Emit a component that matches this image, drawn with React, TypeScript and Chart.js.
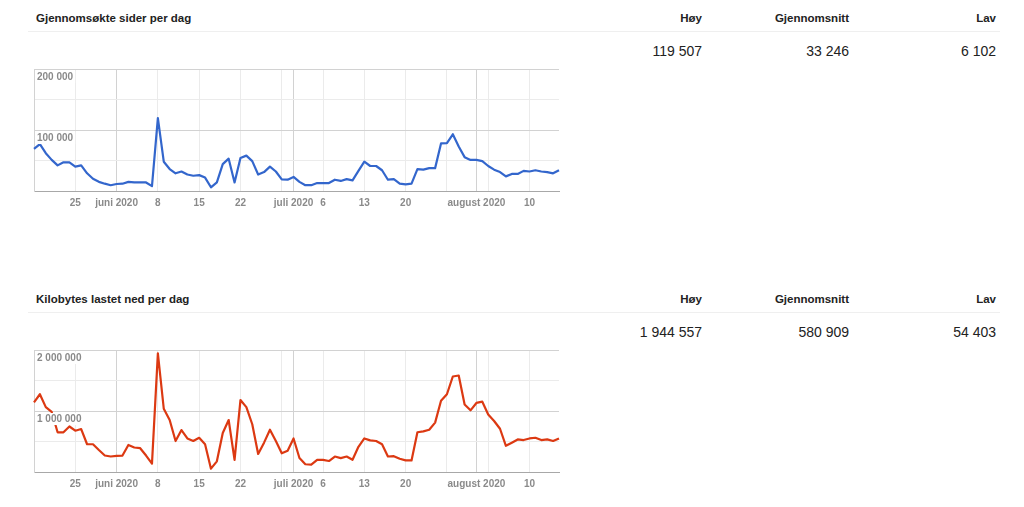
import React, { useEffect, useRef } from 'react';
import { Chart, registerables } from 'chart.js';

Chart.register(...registerables);

const FONT = '"Liberation Sans", Arial, Helvetica, sans-serif';

// ---- categories ----
const startDate = '2020-05-18';
const dayCount = 90;
const dayLabels: string[] = [];
{
  const d0 = new Date(startDate + 'T00:00:00Z');
  for (let i = 0; i < dayCount; i++) {
    const d = new Date(d0.getTime() + i * 86400000);
    dayLabels.push(d.toISOString().slice(0, 10));
  }
}

// ---- x tick labels ----
const xTickDays = [0, 7, 14, 21, 28, 35, 42, 44, 49, 56, 63, 70, 75, 77, 84];
const xTickLabels = ['', '25', 'juni 2020', '8', '15', '22', '', 'juli 2020', '6', '13', '20', '', 'august 2020', '', '10'];
const monthStartDays = [14, 44, 75];

// ---- series ----
const pagesPerDay = [
  69000, 77000, 62000, 51000, 42000, 47000, 47000, 40000, 42000, 29000,
  20000, 15000, 12000, 9500, 11500, 12000, 15000, 14000, 14000, 14000,
  8000, 119507, 48000, 36000, 29000, 32000, 27000, 25000, 26000, 22000,
  6102, 14000, 44000, 53000, 14000, 54000, 58000, 49000, 27000, 31000,
  40000, 32000, 19000, 18500, 23000, 15000, 9500, 9500, 13000, 13000,
  13000, 18500, 16500, 19500, 17500, 33000, 48000, 41000, 41000, 34000,
  18500, 19500, 12000, 11000, 12000, 36000, 35000, 37500, 37500, 78000,
  78500, 93000, 73000, 55500, 51000, 51000, 49000, 41000, 35000, 31000,
  24000, 28000, 28000, 33000, 32000, 34000, 32000, 31000, 29000, 34000,
];

const kilobytesPerDay = [
  1143000, 1275000, 1063000, 984000, 651000, 651000, 746000, 677000, 704000, 455000,
  455000, 360000, 270000, 254000, 265000, 270000, 444000, 402000, 390000, 270000,
  138000, 1944557, 1037000, 852000, 508000, 688000, 550000, 508000, 561000, 455000,
  54403, 175000, 640000, 852000, 200000, 1180000, 1063000, 783000, 296000, 481000,
  693000, 508000, 307000, 349000, 550000, 230000, 127000, 122000, 200000, 200000,
  180000, 254000, 228000, 254000, 200000, 413000, 550000, 518000, 508000, 455000,
  254000, 260000, 217000, 190000, 190000, 651000, 667000, 693000, 810000, 1169000,
  1275000, 1566000, 1582000, 1106000, 1011000, 1132000, 1153000, 942000, 836000, 709000,
  429000, 481000, 534000, 524000, 550000, 561000, 524000, 534000, 508000, 550000,
];

// ---- stats ----
const statHeaders = ['Høy', 'Gjennomsnitt', 'Lav'];
const pagesStats = ['119 507', '33 246', '6 102'];
const kilobytesStats = ['1 944 557', '580 909', '54 403'];

const fmt = (v: number) => String(v).replace(/\B(?=(\d{3})+(?!\d))/g, ' ');

type ChartProps = {
  values: number[];
  color: string;
  yMax: number;
  yStep: number;
  labelStep: number;
};

function LineChart({ values, color, yMax, yStep, labelStep }: ChartProps) {
  const ref = useRef<HTMLCanvasElement>(null);
  useEffect(() => {
    if (!ref.current) return;
    const tickFont = { family: FONT, size: 10, weight: 'bold' as const };
    const chart = new Chart(ref.current, {
      type: 'line',
      data: {
        labels: dayLabels,
        datasets: [
          {
            data: values,
            borderColor: color,
            backgroundColor: color,
            borderWidth: 2.2,
            pointRadius: 0,
            pointHoverRadius: 0,
            fill: false,
            tension: 0,
            borderJoinStyle: 'round',
          },
        ],
      },
      options: {
        animation: false,
        responsive: false,
        maintainAspectRatio: false,
        events: [],
        layout: { padding: { left: 4, right: 9, top: 5, bottom: 0 } },
        plugins: { legend: { display: false }, tooltip: { enabled: false } },
        scales: {
          x: {
            type: 'category',
            afterBuildTicks: (s: any) => {
              s.ticks = xTickDays.map((v) => ({ value: v }));
            },
            afterFit: (s: any) => {
              s.height = 19;
            },
            grid: {
              drawTicks: false,
              color: (c: any) =>
                c.tick && monthStartDays.includes(c.tick.value) ? '#d2d2d2' : '#ebebeb',
            },
            border: { color: '#a8a8a8' },
            ticks: {
              autoSkip: false,
              maxRotation: 0,
              minRotation: 0,
              padding: 6,
              color: '#8a8a8a',
              font: tickFont,
              callback: (v: any) => {
                const k = xTickDays.indexOf(Number(v));
                return k >= 0 ? xTickLabels[k] : '';
              },
            },
          },
          y: {
            min: 0,
            max: yMax,
            afterFit: (s: any) => {
              s.width = 0;
            },
            grid: {
              drawTicks: false,
              color: (c: any) => {
                const v = c.tick ? c.tick.value : 1;
                if (v === 0) return '#a8a8a8';
                return v % labelStep === 0 ? '#d2d2d2' : '#ebebeb';
              },
            },
            border: { color: '#d2d2d2' },
            ticks: {
              stepSize: yStep,
              mirror: true,
              padding: 3,
              labelOffset: 8,
              z: 1,
              color: '#8a8a8a',
              font: tickFont,
              showLabelBackdrop: (c: any) =>
                !!c.tick && c.tick.value > 0 && c.tick.value % labelStep === 0,
              backdropColor: '#ffffff',
              backdropPadding: { top: 0, bottom: 0, left: 2, right: 2 },
              callback: (v: any) => {
                const n = Number(v);
                return n > 0 && n % labelStep === 0 ? fmt(n) : '';
              },
            },
          },
        },
      },
    } as any);
    return () => chart.destroy();
  }, [values, color, yMax, yStep, labelStep]);
  return (
    <canvas
      ref={ref}
      width={540}
      height={150}
      style={{ position: 'absolute', left: 28, top: 60, width: 540, height: 150, display: 'block' }}
    />
  );
}

const colRight = [702, 849, 996];

function Section({
  top,
  title,
  stats,
  children,
}: {
  top: number;
  title: string;
  stats: string[];
  children: React.ReactNode;
}) {
  return (
    <div style={{ position: 'absolute', left: 0, top, width: 1024, height: 230 }}>
      <div
        style={{
          position: 'absolute',
          left: 36,
          top: 11,
          fontSize: 11.5,
          lineHeight: '14px',
          fontWeight: 'bold',
          color: '#222',
          whiteSpace: 'nowrap',
        }}
      >
        {title}
      </div>
      {statHeaders.map((h, i) => (
        <div
          key={'h' + i}
          style={{
            position: 'absolute',
            right: 1024 - colRight[i],
            top: 11,
            fontSize: 11.5,
            lineHeight: '14px',
            fontWeight: 'bold',
            color: '#222',
            textAlign: 'right',
            whiteSpace: 'nowrap',
          }}
        >
          {h}
        </div>
      ))}
      <div
        style={{
          position: 'absolute',
          left: 28,
          top: 31,
          width: 972,
          height: 1,
          background: '#efefef',
        }}
      />
      {stats.map((s, i) => (
        <div
          key={'s' + i}
          style={{
            position: 'absolute',
            right: 1024 - colRight[i],
            top: 43,
            fontSize: 14,
            lineHeight: '16px',
            color: '#222',
            textAlign: 'right',
            whiteSpace: 'nowrap',
          }}
        >
          {s}
        </div>
      ))}
      {children}
    </div>
  );
}

export default function App() {
  return (
    <div
      style={{
        position: 'absolute',
        left: 0,
        top: 0,
        width: 1024,
        height: 507,
        background: '#fff',
        overflow: 'hidden',
        fontFamily: FONT,
      }}
    >
      <Section top={0} title="Gjennomsøkte sider per dag" stats={pagesStats}>
        <LineChart values={pagesPerDay} color="#3366CC" yMax={200000} yStep={50000} labelStep={100000} />
      </Section>
      <Section top={281} title="Kilobytes lastet ned per dag" stats={kilobytesStats}>
        <LineChart values={kilobytesPerDay} color="#DC3912" yMax={2000000} yStep={500000} labelStep={1000000} />
      </Section>
    </div>
  );
}
